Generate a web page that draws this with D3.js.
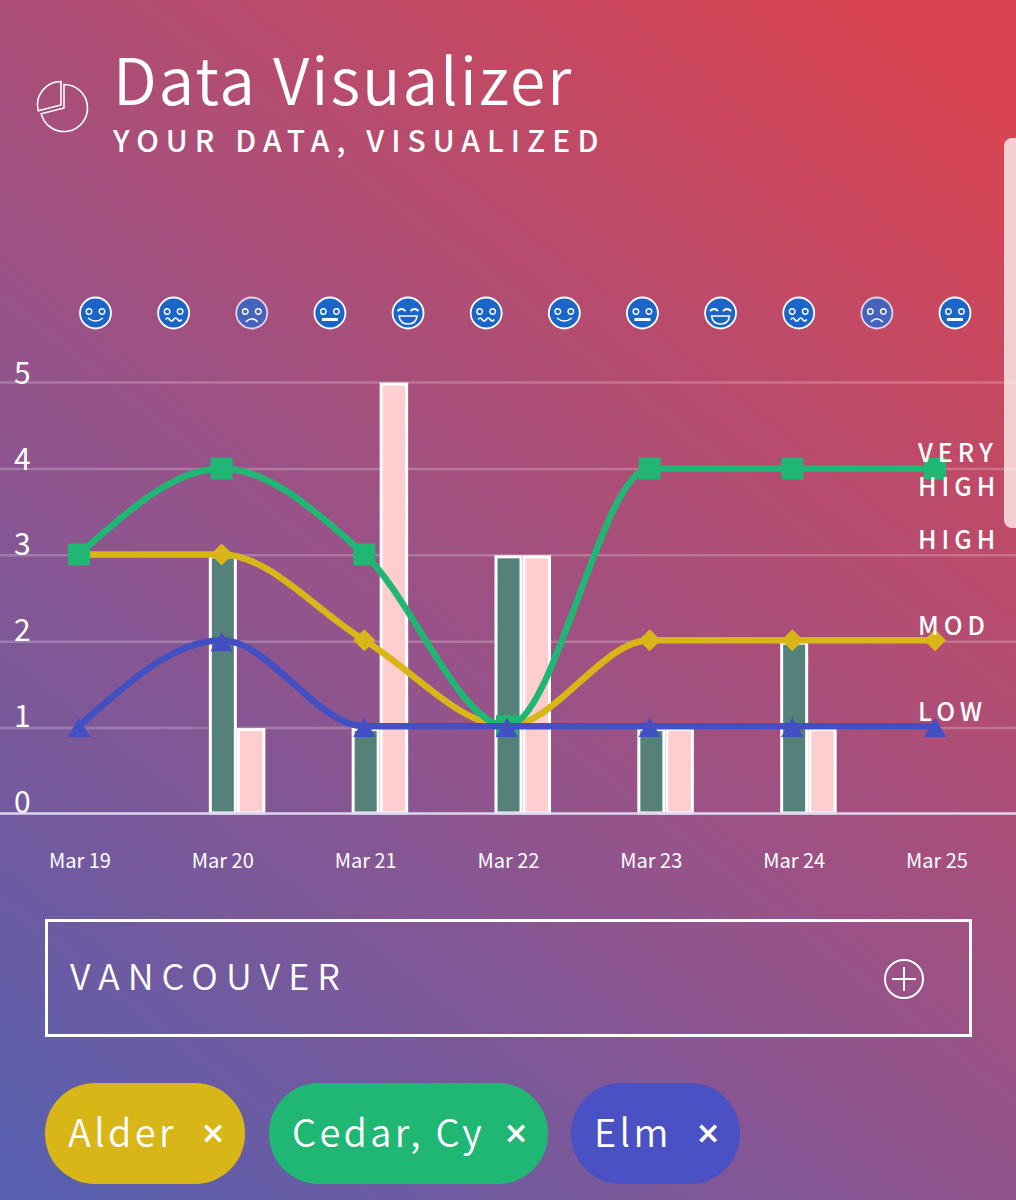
<!DOCTYPE html>
<html>
<head>
<meta charset="utf-8">
<script src="https://cdn.jsdelivr.net/npm/d3@7"></script>
<style>
html, body { margin: 0; padding: 0; background: #8a5585; }
svg { display: block; }
text { font-family: "Noto Sans CJK SC", "Noto Sans", sans-serif; fill: #fff; }
</style>
</head>
<body>
<div id="content"></div>
<script>
// chart values
var days = ["Mar 19", "Mar 20", "Mar 21", "Mar 22", "Mar 23", "Mar 24", "Mar 25"];
var cedar = [3, 4, 3, 1, 4, 4, 4];
var alder = [3, 3, 2, 1, 2, 2, 2];
var elm = [1, 2, 1, 1, 1, 1, 1];
var barsDark = [0, 3, 1, 3, 1, 2, 0];
var barsPink = [0, 1, 5, 3, 1, 1, 0];
var yTicks = [0, 1, 2, 3, 4, 5];
var levels = [["VERY", "HIGH"], ["HIGH"], ["MOD"], ["LOW"]];
var levelValues = [4, 3, 2, 1];
var moods = ["smile", "wavy", "sad", "flat", "grin", "wavy", "smile", "flat", "grin", "wavy", "sad", "flat"];
var chipNames = ["Alder", "Cedar, Cy", "Elm"];

var W = 1016, H = 1200;
var colors = { alder: "#d9b618", cedar: "#20b674", elm: "#4250c4", dark: "#54817a", pink: "#fecdd0" };

var svg = d3.select("#content").append("svg")
    .attr("width", W)
    .attr("height", H);

var defs = svg.append("defs");

var grad = defs.append("linearGradient")
    .attr("id", "bg")
    .attr("gradientUnits", "userSpaceOnUse")
    .attr("x1", -30).attr("y1", 1170)
    .attr("x2", 890).attr("y2", 10);
grad.append("stop").attr("offset", 0).attr("stop-color", "#5560b0");
grad.append("stop").attr("offset", 0.46).attr("stop-color", "#96538a");
grad.append("stop").attr("offset", 1).attr("stop-color", "#da4450");

defs.append("clipPath").attr("id", "cedarClip")
    .append("rect").attr("x", 269).attr("y", 1083).attr("width", 214).attr("height", 101);

svg.append("rect")
    .attr("width", W)
    .attr("height", H)
    .attr("fill", "url(#bg)");

// scroll handle on the right edge
svg.append("path")
    .attr("d", "M1016,138 h-4 a8,8 0 0 0 -8,8 v374 a8,8 0 0 0 8,8 h4 z")
    .attr("fill", "#f3cfd2");

// header
var pie = svg.append("g")
    .attr("transform", "translate(64,108)")
    .attr("fill", "none")
    .attr("stroke", "#fff")
    .attr("stroke-width", 1.6);

pie.append("path")
    .attr("d", d3.arc()({ innerRadius: 0, outerRadius: 23.5, startAngle: 0, endAngle: Math.PI * 1.42 }));
pie.append("path")
    .attr("transform", "translate(-3,-3)")
    .attr("d", d3.arc()({ innerRadius: 0, outerRadius: 23.5, startAngle: Math.PI * 1.42, endAngle: Math.PI * 2 }));

svg.append("text")
    .attr("x", 113).attr("y", 105)
    .attr("font-size", 64)
    .attr("font-weight", 350)
    .attr("letter-spacing", 1.9)
    .text("Data Visualizer");

svg.append("text")
    .attr("x", 113).attr("y", 152)
    .attr("font-size", 30)
    .attr("font-weight", 500)
    .attr("letter-spacing", 7.05)
    .text("YOUR DATA, VISUALIZED");

// mood faces
var moodX = d3.scalePoint().domain(d3.range(moods.length)).range([95.5, 955]);

var face = svg.append("g").selectAll("g")
    .data(moods)
    .enter().append("g")
    .attr("transform", function(d, i) { return "translate(" + moodX(i) + ",313)"; });

face.append("circle")
    .attr("r", 15.5)
    .attr("fill", function(d) { return d == "sad" ? "#4563bd" : "#1c65c8"; })
    .attr("stroke", function(d) { return d == "sad" ? "#e6d2e6" : "#fff"; })
    .attr("stroke-width", 1.8);

var mouths = {
    smile: "M-7.5,5 Q0,11 7.5,5",
    wavy: "M-8,6.5 q2,-3 4,0 t4,0 t4,0 t4,0",
    sad: "M-6,9 Q0,2.5 6,9",
    flat: "M-8,6.5 H8",
    grin: "M-9,3 H9 Q8,11 0,11 Q-8,11 -9,3 Z"
};

face.append("path")
    .attr("d", function(d) { return mouths[d]; })
    .attr("fill", "none")
    .attr("stroke", "#fff")
    .attr("stroke-width", function(d) { return d == "flat" ? 3 : 1.6; });

face.selectAll(".eye")
    .data(function(d) { return d == "grin" ? [] : [-6.5, 6.5]; })
    .enter().append("circle")
    .attr("class", "eye")
    .attr("cx", function(d) { return d; })
    .attr("cy", -1.5)
    .attr("r", 2.8)
    .attr("fill", "none")
    .attr("stroke", "#fff")
    .attr("stroke-width", 1.4);

// grin has closed eyes
face.selectAll(".lid")
    .data(function(d) { return d == "grin" ? [-6.5, 6.5] : []; })
    .enter().append("path")
    .attr("class", "lid")
    .attr("d", function(d) { return "M" + (d - 4) + ",-2 Q" + d + ",-6 " + (d + 4) + ",-2"; })
    .attr("fill", "none")
    .attr("stroke", "#fff")
    .attr("stroke-width", 2);

// scales
var yBar = d3.scaleLinear().domain([0, 5]).range([814.5, 382.5]);
var yLine = d3.scaleLinear().domain([0, 5]).range([812, 382.7]);
var xLine = d3.scalePoint().domain(days).range([79, 935]);
var xTick = d3.scalePoint().domain(days).range([80, 937]);

// grid
svg.append("g").selectAll("line")
    .data(yTicks.slice(1))
    .enter().append("line")
    .attr("x1", 0).attr("x2", W)
    .attr("y1", function(d) { return yBar(d); })
    .attr("y2", function(d) { return yBar(d); })
    .attr("stroke", "#fff")
    .attr("stroke-opacity", 0.22)
    .attr("stroke-width", 2.5);

svg.append("g").selectAll("text")
    .data(yTicks)
    .enter().append("text")
    .attr("x", 14)
    .attr("y", function(d) { return yLine(d) + 1; })
    .attr("font-size", 30)
    .text(function(d) { return d; });

// bars
var bars = svg.append("g").attr("stroke", "#fff").attr("stroke-width", 3);

bars.selectAll(".dark")
    .data(days.filter(function(d, i) { return barsDark[i] > 0; }))
    .enter().append("rect")
    .attr("class", "dark")
    .attr("x", function(d) { return xTick(d) - 12.5; })
    .attr("width", 25)
    .attr("y", function(d) { return yBar(barsDark[days.indexOf(d)]) + 1.5; })
    .attr("height", function(d) { return yBar(0) - yBar(barsDark[days.indexOf(d)]) - 3; })
    .attr("fill", colors.dark);

bars.selectAll(".pink")
    .data(days.filter(function(d, i) { return barsPink[i] > 0; }))
    .enter().append("rect")
    .attr("class", "pink")
    .attr("x", function(d) { return xTick(d) + 15.5; })
    .attr("width", 25.5)
    .attr("y", function(d) { return yBar(barsPink[days.indexOf(d)]) + 1.5; })
    .attr("height", function(d) { return yBar(0) - yBar(barsPink[days.indexOf(d)]) - 3; })
    .attr("fill", colors.pink);

// axis baseline
svg.append("line")
    .attr("x1", 0).attr("x2", W)
    .attr("y1", 813.5).attr("y2", 813.5)
    .attr("stroke", "#dcd6ee")
    .attr("stroke-width", 2.5);

svg.append("g").selectAll("text")
    .data(days)
    .enter().append("text")
    .attr("x", function(d) { return xTick(d); })
    .attr("y", 868)
    .attr("text-anchor", "middle")
    .attr("font-size", 20)
    .text(function(d) { return d; });

// lines and markers
var line = d3.line()
    .x(function(d, i) { return xLine(days[i]); })
    .y(function(d) { return yLine(d); })
    .curve(d3.curveMonotoneX);

var series = [
    { values: alder, color: colors.alder, symbol: d3.symbol().type(d3.symbolSquare).size(242)(), rotate: 45, dy: 0 },
    { values: cedar, color: colors.cedar, symbol: d3.symbol().type(d3.symbolSquare).size(484)(), rotate: 0, dy: 0 },
    { values: elm, color: colors.elm, symbol: d3.symbol().type(d3.symbolTriangle).size(215)(), rotate: 0, dy: 4.5 }
];

series.forEach(function(s) {
    svg.append("path")
        .attr("d", line(s.values))
        .attr("fill", "none")
        .attr("stroke", s.color)
        .attr("stroke-width", 6.5);

    svg.append("g").selectAll("path")
        .data(s.values)
        .enter().append("path")
        .attr("d", s.symbol)
        .attr("fill", s.color)
        .attr("transform", function(d, i) {
            return "translate(" + xLine(days[i]) + "," + (yLine(d) + s.dy) + ") rotate(" + s.rotate + ")";
        });
});

// level names on the right
levels.forEach(function(words, i) {
    var t = svg.append("text")
        .attr("font-size", 25)
        .attr("font-weight", 500)
        .attr("letter-spacing", 5);
    words.forEach(function(w, j) {
        t.append("tspan")
            .attr("x", 918)
            .attr("y", yLine(levelValues[i]) - (words.length > 1 ? 6.5 : 5) + j * 34)
            .text(w);
    });
});

// city select box
svg.append("rect")
    .attr("x", 46.5).attr("y", 920.5)
    .attr("width", 924).attr("height", 115)
    .attr("fill", "none")
    .attr("stroke", "#fff")
    .attr("stroke-width", 3);

svg.append("text")
    .attr("x", 70).attr("y", 990)
    .attr("font-size", 36)
    .attr("font-weight", 350)
    .attr("letter-spacing", 8.05)
    .text("VANCOUVER");

var plus = svg.append("g")
    .attr("transform", "translate(904,979)")
    .attr("fill", "none")
    .attr("stroke", "#fff")
    .attr("stroke-width", 2);
plus.append("circle").attr("r", 19);
plus.append("path").attr("d", "M-12,0 H12 M0,-12 V12");

// chips
var chipX = d3.scaleOrdinal().domain(chipNames).range([45, 269, 571]);
var chipW = d3.scaleOrdinal().domain(chipNames).range([200, 279, 169]);
var chipColor = d3.scaleOrdinal().domain(chipNames).range([colors.alder, colors.cedar, "#4a51c4"]);
var chipClose = d3.scaleOrdinal().domain(chipNames).range([213, 516, 708]);

var chip = svg.append("g").selectAll("g")
    .data(chipNames)
    .enter().append("g");

chip.append("rect")
    .attr("x", chipX)
    .attr("y", 1083)
    .attr("width", chipW)
    .attr("height", 101)
    .attr("rx", 50)
    .attr("fill", chipColor);

chip.append("text")
    .attr("x", function(d) { return chipX(d) + 23; })
    .attr("y", 1147)
    .attr("font-size", 38)
    .attr("font-weight", 350)
    .attr("letter-spacing", 3.3)
    .attr("clip-path", function(d) { return d == "Cedar, Cy" ? "url(#cedarClip)" : null; })
    .text(function(d) { return d; });

chip.append("text")
    .attr("x", chipClose)
    .attr("y", 1143)
    .attr("text-anchor", "middle")
    .style("font-family", "'DejaVu Sans'")
    .attr("font-size", 30)
    .attr("font-weight", 700)
    .text("×");
</script>
</body>
</html>
